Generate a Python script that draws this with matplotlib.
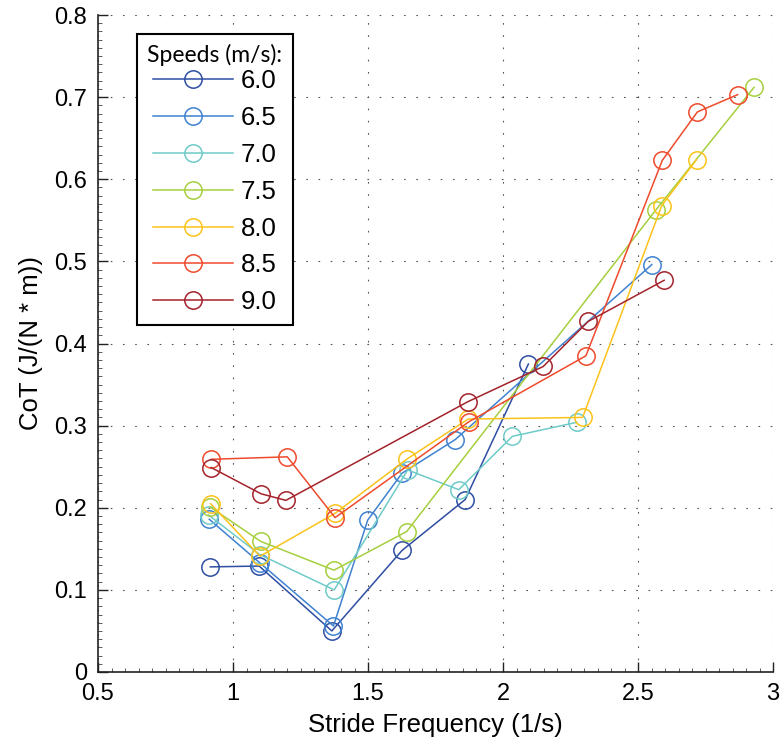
import numpy as np
import matplotlib
matplotlib.use("Agg")
import matplotlib.pyplot as plt
from matplotlib.ticker import MultipleLocator

plt.rcParams['font.family'] = ['Liberation Sans', 'DejaVu Sans']

# stride frequency (1/s) and cost of transport for each running speed
speeds = ['6.0', '6.5', '7.0', '7.5', '8.0', '8.5', '9.0']

freq_60 = [0.916, 1.097, 1.366, 1.626, 1.860, 2.094]
cot_60 = [0.128, 0.129, 0.050, 0.148, 0.210, 0.375]

freq_65 = [0.912, 1.099, 1.372, 1.499, 1.626, 1.823, 2.551]
cot_65 = [0.186, 0.133, 0.056, 0.185, 0.242, 0.283, 0.496]

freq_70 = [0.910, 1.099, 1.375, 1.647, 1.836, 2.035, 2.273]
cot_70 = [0.191, 0.143, 0.100, 0.246, 0.222, 0.287, 0.304]

freq_75 = [0.915, 1.103, 1.374, 1.643, 2.567, 2.930]
cot_75 = [0.201, 0.159, 0.124, 0.171, 0.563, 0.712]

freq_80 = [0.917, 1.100, 1.377, 1.643, 1.871, 2.295, 2.588, 2.717]
cot_80 = [0.205, 0.141, 0.193, 0.259, 0.308, 0.310, 0.568, 0.624]

freq_85 = [0.919, 1.201, 1.378, 1.875, 2.307, 2.590, 2.720, 2.869]
cot_85 = [0.259, 0.262, 0.188, 0.305, 0.385, 0.623, 0.682, 0.703]

freq_90 = [0.919, 1.104, 1.196, 1.869, 2.149, 2.316, 2.597]
cot_90 = [0.249, 0.217, 0.209, 0.329, 0.372, 0.427, 0.477]

freqs = [freq_60, freq_65, freq_70, freq_75, freq_80, freq_85, freq_90]
cots = [cot_60, cot_65, cot_70, cot_75, cot_80, cot_85, cot_90]
colors = ['#2e4ea3', '#3f82cf', '#6fcbc8', '#a6cf3e', '#fbc31a', '#ef4a2b', '#a3232b']

xtick_labels = ['0.5', '1', '1.5', '2', '2.5', '3']
ytick_labels = ['0', '0.1', '0.2', '0.3', '0.4', '0.5', '0.6', '0.7', '0.8']

fig = plt.figure(figsize=(7.81, 7.44), dpi=100)
ax = fig.add_axes([98/781, 72/744, 675/781, 657/744])

for f, c, col, s in zip(freqs, cots, colors, speeds):
    ax.plot(f, c, '-o', color=col, lw=1.1, ms=12.5, mfc='none', mew=1.1, label=s)

ax.set_xlim(0.5, 3)
ax.set_ylim(0, 0.8)
ax.set_xticks(np.arange(0.5, 3.01, 0.5))
ax.set_xticklabels(xtick_labels)
ax.set_yticks(np.arange(0, 0.81, 0.1))
ax.set_yticklabels(ytick_labels)
ax.xaxis.set_minor_locator(MultipleLocator(0.05))
ax.yaxis.set_minor_locator(MultipleLocator(0.01))

ax.tick_params(which='major', direction='in', length=7, width=1, labelsize=17, pad=8, color='#222222')
ax.tick_params(which='minor', direction='in', length=3, width=0.6, color='#444444')
ax.spines['top'].set_visible(False)
ax.spines['right'].set_visible(False)
for sp in ['left', 'bottom']:
    ax.spines[sp].set_linewidth(1.2)
    ax.spines[sp].set_color('#222222')

ax.grid(True, which='major', color='#555555', lw=0.8, linestyle=(0, (1.5, 9.5)))
ax.set_axisbelow(True)

ax.set_xlabel('Stride Frequency (1/s)', fontsize=18.5, labelpad=6)
ax.set_ylabel('CoT (J/(N * m))', fontsize=18.5, labelpad=8)

leg = ax.legend(loc='upper left', bbox_to_anchor=(137/781, 1 - 34/744),
                bbox_transform=fig.transFigure, borderaxespad=0,
                fontsize=18.5, title='Speeds (m/s):',
                title_fontproperties={'family': 'Lato', 'size': 16.5},
                handlelength=3.1, labelspacing=0.5, handletextpad=0.3,
                borderpad=0.4, fancybox=False, framealpha=1)
leg.get_frame().set_edgecolor('black')
leg.get_frame().set_linewidth(1.5)
# tighter gap between the title and the first entry
leg._legend_box.sep = 2

fig.savefig('out.png', dpi=100)
